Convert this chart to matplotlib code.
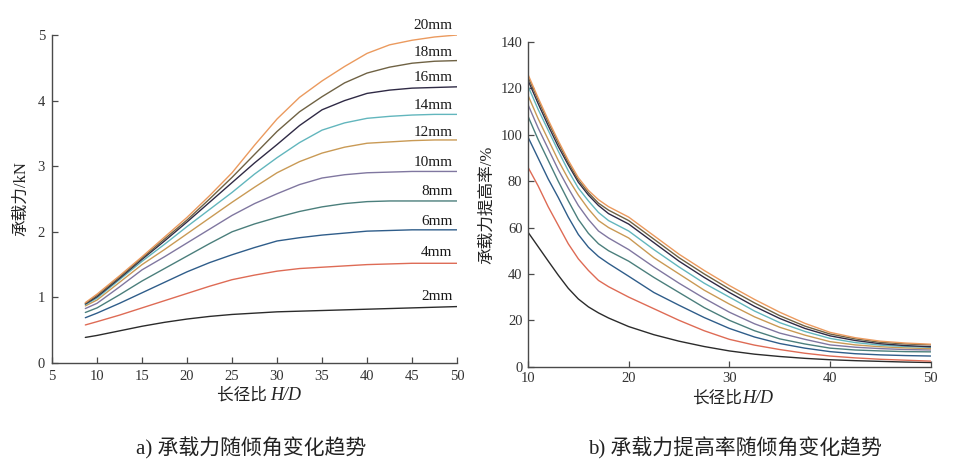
import matplotlib
matplotlib.use("Agg")
import matplotlib.pyplot as plt

plt.rcParams['font.family'] = ['Liberation Serif', 'Noto Sans CJK SC', 'DejaVu Sans']

# ---------------- data ----------------
labels = ['2mm', '4mm', '6mm', '8mm', '10mm', '12mm', '14mm', '16mm', '18mm', '20mm']
colors = ['#2b2b2b', '#de6b55', '#2f5d8a', '#4b7f7c', '#8077a0',
          '#c99a55', '#62b6bd', '#2f2a45', '#6f6244', '#eb9a5e']

# left panel: bearing capacity (kN) vs H/D
x_left = [8.7, 10, 12.5, 15, 17.5, 20, 22.5, 25, 27.5, 30, 32.5, 35, 37.5, 40, 42.5, 45, 47.5, 50]
cap_2 = [0.39, 0.42, 0.49, 0.56, 0.62, 0.67, 0.71, 0.74, 0.76, 0.78, 0.79, 0.80, 0.81, 0.82, 0.83, 0.84, 0.85, 0.86]
cap_4 = [0.58, 0.63, 0.73, 0.84, 0.95, 1.06, 1.17, 1.27, 1.34, 1.40, 1.44, 1.46, 1.48, 1.50, 1.51, 1.52, 1.52, 1.52]
cap_6 = [0.69, 0.76, 0.91, 1.07, 1.23, 1.39, 1.53, 1.65, 1.76, 1.86, 1.91, 1.95, 1.98, 2.01, 2.02, 2.03, 2.03, 2.03]
cap_8 = [0.77, 0.84, 1.04, 1.25, 1.44, 1.63, 1.82, 2.00, 2.12, 2.22, 2.31, 2.38, 2.43, 2.46, 2.47, 2.47, 2.47, 2.47]
cap_10 = [0.83, 0.91, 1.16, 1.42, 1.62, 1.83, 2.04, 2.25, 2.43, 2.58, 2.72, 2.82, 2.87, 2.90, 2.91, 2.92, 2.92, 2.92]
cap_12 = [0.87, 0.96, 1.23, 1.50, 1.73, 1.97, 2.21, 2.45, 2.68, 2.90, 3.07, 3.20, 3.29, 3.35, 3.37, 3.39, 3.40, 3.40]
cap_14 = [0.89, 0.99, 1.27, 1.55, 1.81, 2.08, 2.34, 2.60, 2.88, 3.13, 3.36, 3.55, 3.66, 3.73, 3.76, 3.78, 3.79, 3.79]
cap_16 = [0.90, 1.01, 1.29, 1.58, 1.86, 2.15, 2.45, 2.75, 3.05, 3.33, 3.62, 3.86, 4.00, 4.11, 4.16, 4.19, 4.20, 4.21]
cap_18 = [0.91, 1.03, 1.31, 1.60, 1.89, 2.18, 2.50, 2.83, 3.18, 3.53, 3.83, 4.06, 4.27, 4.42, 4.51, 4.57, 4.60, 4.61]
cap_20 = [0.92, 1.05, 1.33, 1.62, 1.92, 2.22, 2.55, 2.90, 3.32, 3.72, 4.05, 4.30, 4.52, 4.72, 4.85, 4.92, 4.97, 5.00]
cap_series = [cap_2, cap_4, cap_6, cap_8, cap_10, cap_12, cap_14, cap_16, cap_18, cap_20]
label_y = [1.01, 1.68, 2.16, 2.61, 3.06, 3.51, 3.92, 4.35, 4.74, 5.15]

# right panel: improvement rate (%) vs H/D
x_right = [10, 11, 12, 13, 14, 15, 16, 17, 18, 20, 22.5, 25, 27.5, 30, 32.5, 35, 37.5, 40, 42.5, 45, 47.5, 50]
rate_2 = [58, 51.8, 45.6, 39.5, 33.8, 29.2, 25.8, 23.2, 21, 17.3, 13.8, 11, 8.7, 6.8, 5.4, 4.4, 3.6, 3.0, 2.6, 2.3, 2.0, 1.8]
rate_4 = [86, 78, 69, 61, 53, 46.5, 41.5, 37.2, 34.5, 30, 25, 20, 15.5, 11.8, 9.3, 7.4, 5.8, 4.6, 3.8, 3.2, 2.8, 2.4]
rate_6 = [99, 90, 81, 73, 64.5, 57, 51.5, 47.5, 44.5, 39, 32, 26.5, 21.2, 16.5, 12.8, 10, 8, 6.5, 5.6, 5.1, 4.8, 4.6]
rate_8 = [108, 98, 89, 80, 71.5, 63.5, 57.5, 53, 50, 45.5, 38.5, 32, 25.5, 20, 15.5, 12, 9.8, 8, 7.2, 6.8, 6.5, 6.4]
rate_10 = [113, 103, 94, 85, 77, 69.5, 63.5, 58.5, 55.5, 50.5, 43, 36, 29.5, 23.5, 18.5, 14.5, 11.8, 9.4, 8.4, 7.8, 7.4, 7.2]
rate_12 = [117, 107, 98, 89, 81, 74, 68, 63, 60, 55.5, 47, 40, 33, 27, 21.5, 17, 13.6, 10.8, 9.4, 8.6, 8.1, 7.8]
rate_14 = [121, 111, 102, 93, 84.5, 77, 71.5, 66.5, 63, 58.5, 50.5, 43, 36, 30, 24, 19, 15.2, 12.2, 10.4, 9.3, 8.7, 8.4]
rate_16 = [123.5, 113.5, 104, 95, 87, 79.5, 74, 69.5, 66, 61.5, 53.5, 45.5, 38.5, 32, 26, 20.8, 16.5, 13.3, 11.3, 9.9, 9.1, 8.6]
rate_18 = [125, 115, 105.5, 96.5, 88, 80.5, 75, 70.5, 67.5, 63, 55, 47, 40, 33.5, 27.5, 22, 17.5, 14.1, 12, 10.5, 9.8, 9.4]
rate_20 = [126, 116, 106.5, 97.5, 89, 81.5, 76, 72, 69, 64.5, 56.5, 48.5, 41.5, 35, 29, 23.5, 18.7, 14.8, 12.5, 11, 10.2, 9.7]
rate_series = [rate_2, rate_4, rate_6, rate_8, rate_10, rate_12, rate_14, rate_16, rate_18, rate_20]

left_xticks = [5, 10, 15, 20, 25, 30, 35, 40, 45, 50]
left_yticks = [0, 1, 2, 3, 4, 5]
right_xticks = [10, 20, 30, 40, 50]
right_yticks = [0, 20, 40, 60, 80, 100, 120, 140]

# ---------------- figure ----------------
fig = plt.figure(figsize=(9.6, 4.75), dpi=100)
fig.patch.set_facecolor('white')

axL = fig.add_axes([0.0542, 0.2358, 0.4219, 0.6905])
axR = fig.add_axes([0.5500, 0.2280, 0.4195, 0.6836])

spine_c = '#4a4a4a'
for ax in (axL, axR):
    for s in ('top', 'right'):
        ax.spines[s].set_visible(False)
    for s in ('left', 'bottom'):
        ax.spines[s].set_color(spine_c)
        ax.spines[s].set_linewidth(1.0)
    ax.tick_params(direction='in', length=4, width=0.9, color=spine_c, labelcolor='#333333')

for vals, col in zip(cap_series, colors):
    axL.plot(x_left, vals, color=col, lw=1.0, solid_capstyle='round')
for lab, ly in zip(labels, label_y):
    axL.text(49.5, ly, lab, ha='right', va='center', fontsize=11,
             family='Liberation Serif', color='#1a1a1a')
axL.set_xlim(5, 50)
axL.set_ylim(0, 5)
axL.set_xticks(left_xticks)
axL.set_yticks(left_yticks)
axL.tick_params(labelsize=10.5, pad=5)
axL.set_ylabel('承载力/kN', fontsize=12, labelpad=6, color='#222222')

for vals, col in zip(rate_series, colors):
    axR.plot(x_right, vals, color=col, lw=1.0, solid_capstyle='round')
axR.set_xlim(10, 50)
axR.set_ylim(0, 140)
axR.set_xticks(right_xticks)
axR.set_yticks(right_yticks)
axR.tick_params(labelsize=10.5, pad=4)
axR.set_ylabel('承载力提高率/%', fontsize=12, labelpad=4, color='#222222')

# x-axis titles: CJK part + italic serif H/D
fig.text(0.2815, 0.158, '长径比 ', ha='right', va='baseline', fontsize=12,
         family='Noto Sans CJK SC', color='#222222')
fig.text(0.2815, 0.158, 'H/D', ha='left', va='baseline', fontsize=13,
         family='Liberation Serif', style='italic', color='#222222')
fig.text(0.7725, 0.152, '长径比', ha='right', va='baseline', fontsize=12,
         family='Noto Sans CJK SC', color='#222222')
fig.text(0.7735, 0.152, 'H/D', ha='left', va='baseline', fontsize=13,
         family='Liberation Serif', style='italic', color='#222222')

fig.text(0.262, 0.057, 'a) 承载力随倾角变化趋势', ha='center', va='center',
         fontsize=15, color='#222222')
fig.text(0.766, 0.057, 'b) 承载力提高率随倾角变化趋势', ha='center', va='center',
         fontsize=15, color='#222222')

fig.savefig('out.png', dpi=100, facecolor='white')
